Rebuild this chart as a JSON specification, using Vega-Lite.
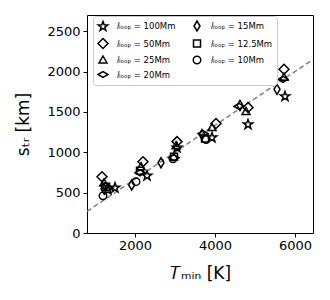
{
  "$schema": "https://vega.github.io/schema/vega-lite/v6.json",
  "autosize": {"type": "none"},
  "padding": {"left": 87, "top": 15, "right": 17, "bottom": 67},
  "width": 226,
  "height": 218,
  "background": "white",
  "config": {
    "font": "DejaVu Sans",
    "view": {"stroke": "black", "strokeWidth": 1},
    "axis": {
      "grid": false, "domain": false, "ticks": true, "tickColor": "black", "tickSize": 4, "tickWidth": 1,
      "labelColor": "black", "labelFont": "DejaVu Sans", "labelFontSize": 13,
      "titleColor": "black", "titleFont": "DejaVu Sans", "titleFontSize": 17, "titleFontWeight": "normal"
    },
    "legend": {
      "labelFont": "DejaVu Sans", "labelFontSize": 8.5, "labelColor": "black"
    }
  },
  "datasets": {
    "pts": [
      {"T": 1325, "s": 535, "l": "100"},
      {"T": 1500, "s": 560, "l": "100"},
      {"T": 2300, "s": 709, "l": "100"},
      {"T": 3050, "s": 1057, "l": "100"},
      {"T": 3925, "s": 1182, "l": "100"},
      {"T": 4825, "s": 1344, "l": "100"},
      {"T": 5750, "s": 1692, "l": "100"},
      {"T": 1175, "s": 697, "l": "50"},
      {"T": 2200, "s": 883, "l": "50"},
      {"T": 3050, "s": 1132, "l": "50"},
      {"T": 4025, "s": 1356, "l": "50"},
      {"T": 4825, "s": 1555, "l": "50"},
      {"T": 5725, "s": 2028, "l": "50"},
      {"T": 1225, "s": 622, "l": "25"},
      {"T": 2150, "s": 821, "l": "25"},
      {"T": 3025, "s": 1082, "l": "25"},
      {"T": 3925, "s": 1306, "l": "25"},
      {"T": 4775, "s": 1505, "l": "25"},
      {"T": 5725, "s": 1928, "l": "25"},
      {"T": 1250, "s": 585, "l": "20"},
      {"T": 2125, "s": 746, "l": "20"},
      {"T": 2975, "s": 933, "l": "20"},
      {"T": 3700, "s": 1231, "l": "20"},
      {"T": 4600, "s": 1567, "l": "20"},
      {"T": 5700, "s": 1903, "l": "20"},
      {"T": 1225, "s": 547, "l": "15"},
      {"T": 1917, "s": 595, "l": "15"},
      {"T": 2650, "s": 870, "l": "15"},
      {"T": 3675, "s": 1219, "l": "15"},
      {"T": 4625, "s": 1580, "l": "15"},
      {"T": 5550, "s": 1779, "l": "15"},
      {"T": 1275, "s": 572, "l": "12.5"},
      {"T": 2125, "s": 771, "l": "12.5"},
      {"T": 2975, "s": 945, "l": "12.5"},
      {"T": 3750, "s": 1169, "l": "12.5"},
      {"T": 1200, "s": 460, "l": "10"},
      {"T": 2025, "s": 636, "l": "10"},
      {"T": 2950, "s": 920, "l": "10"},
      {"T": 3775, "s": 1157, "l": "10"}
    ],
    "fit": [
      {"T": 800, "s": 267},
      {"T": 6450, "s": 2150}
    ]
  },
  "layer": [
    {
      "data": {"name": "fit"},
      "mark": {"type": "line", "color": "#808080", "strokeWidth": 1.5, "strokeDash": [5, 3], "clip": true},
      "encoding": {
        "x": {"field": "T", "type": "quantitative", "scale": {"domain": [800, 6450], "nice": false, "zero": false},
          "axis": {"values": [2000, 4000, 6000], "format": "d", "labelPadding": 2, "title": "𝑇ₘᵢₙ [K]", "titlePadding": 13}},
        "y": {"field": "s", "type": "quantitative", "scale": {"domain": [0, 2700], "nice": false},
          "axis": {"values": [0, 500, 1000, 1500, 2000, 2500], "format": "d", "labelPadding": 3, "title": "sₜᵣ [km]", "titlePadding": 14}}
      }
    },
    {
      "data": {"name": "pts"},
      "mark": {"type": "point", "filled": false, "color": "black", "strokeWidth": 1.5, "size": 100, "opacity": 1},
      "encoding": {
        "x": {"field": "T", "type": "quantitative"},
        "y": {"field": "s", "type": "quantitative"},
        "shape": {
          "field": "l", "type": "nominal",
          "scale": {
            "domain": ["100", "50", "25", "20", "15", "12.5", "10"],
            "range": [
              "M0,-1L0.235,-0.324L0.951,-0.309L0.380,0.124L0.588,0.809L0,0.4L-0.588,0.809L-0.380,0.124L-0.951,-0.309L-0.235,-0.324Z",
              "M0,-1L1,0L0,1L-1,0Z",
              "M0,-0.8L0.8,0.6L-0.8,0.6Z",
              "M-1,0L0,-0.6L1,0L0,0.6Z",
              "M0,-1L0.6,0L0,1L-0.6,0Z",
              "M-0.7,-0.7L0.7,-0.7L0.7,0.7L-0.7,0.7Z",
              "M0.75,0A0.75,0.75,0,1,1,-0.75,0A0.75,0.75,0,1,1,0.75,0Z"
            ]
          },
          "legend": {
            "title": null, "orient": "none", "legendX": 6, "legendY": 1, "columns": 2, "columnPadding": 14, "rowPadding": 1.5,
            "padding": 4, "strokeColor": "#cccccc", "fillColor": "white", "cornerRadius": 3,
            "symbolSize": 100, "symbolStrokeColor": "black", "symbolFillColor": "transparent", "symbolStrokeWidth": 1.5,
            "labelOffset": 8,
            "labelExpr": "'𝑙ₗₒₒₚ = ' + datum.label + 'Mm'"
          }
        }
      }
    }
  ]
}
